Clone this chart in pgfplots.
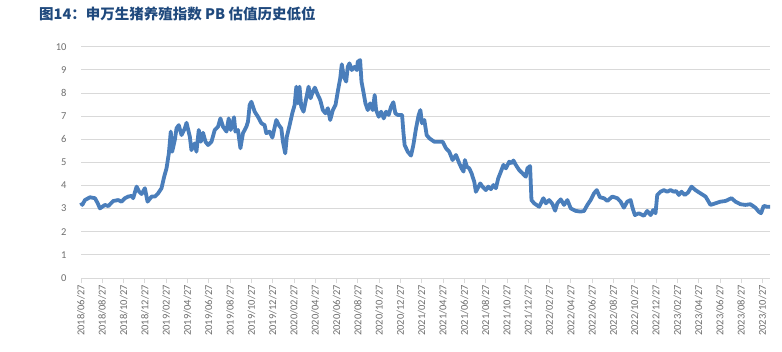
\documentclass[border=0pt]{standalone}
\usepackage{pgfplots}
\pgfplotsset{compat=1.18}
\usepackage{fontspec}
\setmainfont{Carlito}
\newfontfamily\cjk{Noto Sans CJK SC}
\definecolor{linec}{RGB}{74,126,187}
\definecolor{titlec}{RGB}{31,73,125}
\definecolor{gridc}{RGB}{217,217,217}
\definecolor{labc}{RGB}{110,110,110}
\begin{document}
\begin{tikzpicture}
\useasboundingbox (0,0) rectangle (782bp,352bp);
\node[anchor=west, inner sep=0pt, text=titlec, font=\cjk\bfseries\fontsize{14.5bp}{16bp}\selectfont] at (39bp,338bp) {图14：申万生猪养殖指数 PB 估值历史低位};
\begin{axis}[
  at={(81bp,74bp)}, anchor=south west,
  scale only axis=true, width=689bp, height=231.3bp,
  xmin=0, xmax=64.7, ymin=0, ymax=10,
  ytick={0,1,...,10},
  xtick={0,2,...,64},
  xticklabels={2018/06/27,2018/08/27,2018/10/27,2018/12/27,2019/02/27,2019/04/27,2019/06/27,2019/08/27,2019/10/27,2019/12/27,2020/02/27,2020/04/27,2020/06/27,2020/08/27,2020/10/27,2020/12/27,2021/02/27,2021/04/27,2021/06/27,2021/08/27,2021/10/27,2021/12/27,2022/02/27,2022/04/27,2022/06/27,2022/08/27,2022/10/27,2022/12/27,2023/02/27,2023/04/27,2023/06/27,2023/08/27,2023/10/27},
  x tick label style={rotate=90, anchor=east, font=\fontsize{10.5bp}{12bp}\selectfont, text=labc, inner sep=2bp},
  y tick label style={font=\fontsize{10.5bp}{12bp}\selectfont, text=labc},
  /pgf/number format/assume math mode=true,
  ymajorgrids, grid style={gridc, line width=0.9bp},
  axis line style={draw=none},
  axis x line*=bottom,
  x axis line style={draw=gridc, line width=0.9bp},
  xtick pos=bottom, tick align=outside,
  major tick length=5bp,
  xtick style={draw=gridc, line width=0.9bp},
  ytick style={draw=none},
  yticklabel style={xshift=-6bp},
  clip=false,
]
\addplot[linec, line width=3.8bp, line join=round] coordinates {
(0,3.26)(0.12,3.16)(0.37,3.37)(0.84,3.49)(1.31,3.45)(1.57,3.23)(1.78,3.01)(2.25,3.16)(2.56,3.11)(3.03,3.33)(3.50,3.37)(3.81,3.30)(4.12,3.45)(4.43,3.52)(4.75,3.55)(4.90,3.45)(5.22,3.95)(5.46,3.73)(5.69,3.63)(6.00,3.88)(6.25,3.30)(6.63,3.52)(6.94,3.52)(7.24,3.66)(7.56,3.88)(7.81,4.38)(8.03,4.74)(8.25,5.39)(8.43,6.33)(8.56,5.46)(8.81,5.97)(8.97,6.47)(9.18,6.61)(9.44,6.18)(9.75,6.47)(9.91,6.71)(10.22,6.11)(10.37,5.53)(10.68,5.82)(10.84,5.46)(11.06,6.40)(11.25,5.89)(11.46,6.28)(11.69,5.89)(11.93,5.75)(12.25,5.89)(12.56,6.40)(12.87,6.54)(13.09,6.90)(13.34,6.54)(13.66,6.33)(13.87,6.90)(14.06,6.40)(14.37,6.95)(14.50,6.33)(14.74,6.40)(14.97,5.61)(15.21,6.26)(15.53,6.54)(15.68,6.76)(15.84,7.48)(16.00,7.62)
(16.31,7.19)(16.62,6.97)(16.94,6.69)(17.24,6.61)(17.40,6.26)(17.71,6.33)(17.97,6.07)(18.34,6.83)(18.58,6.61)(18.81,6.47)(18.96,5.89)(19.18,5.39)(19.33,6.11)(19.59,6.61)(19.84,7.12)(20.06,7.48)(20.22,8.27)(20.37,7.55)(20.52,8.27)(20.68,7.41)(20.90,7.19)(21.15,7.77)(21.37,8.27)(21.56,7.77)(21.77,8.05)(21.96,8.23)(22.24,7.91)(22.46,7.70)(22.71,7.26)(22.96,7.12)(23.18,7.34)(23.40,6.83)(23.65,7.26)(23.90,7.48)(24.11,8.05)(24.34,8.63)(24.49,9.24)(24.68,8.70)(24.90,8.49)(25.05,9.13)(25.21,9.28)(25.43,8.99)(25.68,9.13)(25.90,8.99)(25.99,9.35)(26.21,9.42)(26.34,8.49)(26.52,8.05)(26.71,7.55)(26.93,7.26)(27.15,7.55)(27.39,7.26)(27.58,7.91)(27.71,7.26)(27.96,6.97)(28.18,7.19)(28.43,6.90)(28.65,7.19)(28.89,7.05)(29.12,7.41)(29.33,7.60)(29.52,7.12)(29.74,7.05)(29.96,7.05)(30.15,7.05)(30.27,6.33)(30.39,5.75)(30.68,5.46)(30.99,5.29)(31.21,5.75)(31.46,6.47)(31.71,7.05)(31.87,7.26)(32.02,6.69)(32.24,6.83)(32.46,6.18)(32.71,6.04)
(33.18,5.89)(33.96,5.89)(34.27,5.61)(34.58,5.46)(34.89,5.10)(35.21,5.32)(35.52,4.96)(35.74,4.74)(35.92,4.60)(36.05,5.10)(36.24,4.81)(36.46,4.74)(36.67,4.53)(36.93,4.16)(37.08,3.73)(37.33,3.95)(37.49,4.09)(37.70,3.95)(38.02,3.80)(38.24,3.95)(38.49,3.84)(38.73,4.02)(38.96,3.88)(39.18,4.31)(39.43,4.60)(39.67,4.89)(39.90,4.74)(40.21,5.03)(40.42,4.96)(40.61,5.08)(40.83,4.89)(41.14,4.67)(41.45,4.53)(41.77,4.38)(41.92,4.74)(42.17,4.84)(42.30,3.37)(42.55,3.23)(43.02,3.08)(43.42,3.45)(43.65,3.23)(43.96,3.37)(44.27,3.20)(44.52,2.91)(44.73,3.23)(45.05,3.40)(45.36,3.16)(45.67,3.37)(45.99,3.01)(46.46,2.90)(46.93,2.87)(47.24,2.90)(47.55,3.16)(47.86,3.37)(48.17,3.66)(48.43,3.80)(48.73,3.49)(49.11,3.45)
(49.42,3.33)(49.89,3.52)(50.36,3.45)(50.67,3.30)(50.98,3.04)(51.29,3.30)(51.61,3.37)(51.76,3.08)(52.01,2.72)(52.39,2.80)(52.86,2.69)(53.17,2.90)(53.49,2.72)(53.73,2.94)(53.95,2.80)(54.11,3.59)(54.42,3.73)(54.73,3.80)(55.04,3.73)(55.36,3.80)(55.67,3.73)(55.89,3.76)(56.14,3.59)(56.39,3.73)(56.70,3.59)(57.01,3.70)(57.33,3.95)(57.70,3.80)(58.17,3.66)(58.65,3.52)(59.11,3.16)(59.58,3.23)(60.05,3.30)(60.52,3.33)(61.08,3.45)(61.46,3.30)(61.92,3.19)(62.39,3.16)(62.86,3.19)(63.33,3.04)(63.64,2.87)(63.86,2.80)(64.11,3.12)(64.42,3.08)(64.72,3.08)
};
\end{axis}
\end{tikzpicture}
\end{document}
